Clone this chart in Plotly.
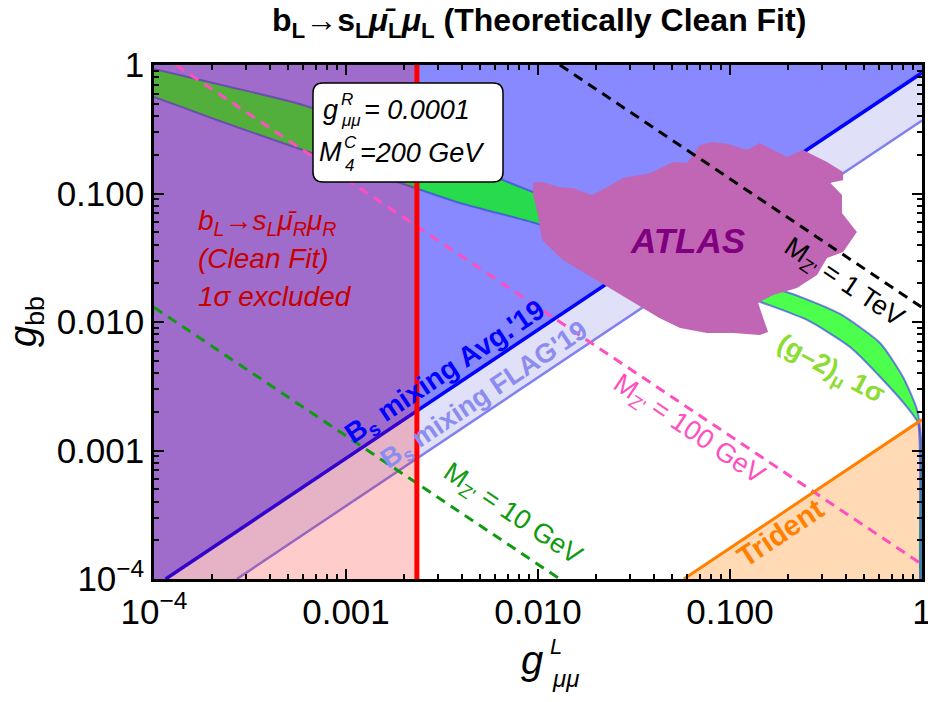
import plotly.graph_objects as go

# ---------------- data ----------------
# B_s mixing lines (g_bb vs g_mumu^L)
avg19_x = [1.15e-4, 1.0]
avg19_y = [1e-4, 0.87]
flag19_x = [2.7e-4, 1.0]
flag19_y = [1e-4, 0.37]

# M_Z' contours
mz10_x = [1e-4, 0.013]
mz10_y = [0.013, 1e-4]
mz100_x = [1.3e-4, 1.0]
mz100_y = [1.0, 1.3e-4]
mz1000_x = [0.013, 1.0]
mz1000_y = [1.0, 0.013]

# Trident bound
trident_x = [0.0575, 1.0]
trident_y = [1e-4, 0.00174]

# b_L -> s_L mu_R mu_R clean fit exclusion (vertical line)
clean_fit_x = 0.00234

# (g-2)_mu 1 sigma band
gm2_up_x = [1e-4, 2.49e-4, 5.97e-4, 1.50e-3, 3.93e-3, 9.64e-3, 0.0237, 0.0619, 0.143,
            0.232, 0.374, 0.604, 0.796, 0.942, 0.989, 1.0]
gm2_up_y = [0.931, 0.675, 0.489, 0.296, 0.173, 0.101, 0.060, 0.0338, 0.0201,
            0.0157, 0.01155, 0.00687, 0.00373, 0.00207, 0.00121, 1e-4]
gm2_lo_x = [1e-4, 2.13e-4, 5.97e-4, 1.50e-3, 3.93e-3, 9.64e-3, 0.0237, 0.0619, 0.149,
            0.252, 0.422, 0.627, 0.836, 0.953, 0.976, 0.976]
gm2_lo_y = [0.564, 0.373, 0.218, 0.137, 0.0844, 0.0589, 0.0377, 0.0224, 0.01406,
            0.01037, 0.00639, 0.00354, 0.00218, 0.00164, 0.000844, 1e-4]

# ATLAS excluded region outline
atlas_x = [0.00942, 0.0105, 0.0130, 0.0152, 0.0191, 0.0229, 0.0277, 0.0383, 0.0505, 0.0597,
           0.0698, 0.0805, 0.0977, 0.123, 0.143, 0.176, 0.198, 0.240, 0.320, 0.388,
           0.388, 0.332, 0.383, 0.383, 0.458, 0.388, 0.320, 0.284, 0.223, 0.168,
           0.140, 0.149, 0.158, 0.143, 0.104, 0.0759, 0.0550, 0.0431, 0.0301, 0.0203,
           0.0135, 0.0105, 0.0100, 0.00942]
atlas_y = [0.121, 0.123, 0.112, 0.110, 0.0973, 0.112, 0.132, 0.144, 0.176, 0.173,
           0.238, 0.252, 0.243, 0.218, 0.247, 0.210, 0.192, 0.218, 0.176, 0.147,
           0.127, 0.121, 0.0973, 0.0705, 0.0501, 0.0351, 0.0315, 0.0232, 0.0184, 0.0162,
           0.0141, 0.0107, 0.00836, 0.00792, 0.00821, 0.00821, 0.00898, 0.0107, 0.0148, 0.0212,
           0.0304, 0.0435, 0.0681, 0.0973]

tick_vals = [1e-4, 1e-3, 1e-2, 1e-1, 1]
x_tick_text = ["10<sup>\u22124</sup>", "0.001", "0.010", "0.100", "1"]
y_tick_text = ["10<sup>\u22124</sup>", "0.001", "0.010", "0.100", "1"]

# ---------------- layout geometry ----------------
W, H = 928, 702
L, R, T, B = 154, 6, 65, 123
PW, PH = W - L - R, H - T - B


def P(px, py):
    return (px - L) / PW, (H - B - py) / PH


FONT = "Liberation Sans, Arial, Helvetica, sans-serif"

fig = go.Figure()


def poly(xs, ys, color, shape="linear"):
    fig.add_trace(go.Scatter(x=xs, y=ys, mode="lines", fill="toself", fillcolor=color,
                             line=dict(width=0, color=color, shape=shape, smoothing=0.6),
                             hoverinfo="skip", showlegend=False))


def line(xs, ys, color, width, dash=None, shape="linear"):
    fig.add_trace(go.Scatter(x=xs, y=ys, mode="lines",
                             line=dict(color=color, width=width, dash=dash, shape=shape,
                                       smoothing=0.6),
                             hoverinfo="skip", showlegend=False))


# Blue region above Avg'19 line
poly([avg19_x[0], avg19_x[1], 1.0, 1e-4, 1e-4, avg19_x[0]],
     [avg19_y[0], avg19_y[1], 1.0, 1.0, 1e-4, avg19_y[0]], "#8888ff")
# light lavender between the two B_s lines
poly([avg19_x[0], avg19_x[1], flag19_x[1], flag19_x[0], avg19_x[0]],
     [avg19_y[0], avg19_y[1], flag19_y[1], flag19_y[0], avg19_y[0]], "#e0e0f8")
# Trident region
poly([trident_x[0], trident_x[1], 1.0, trident_x[0]],
     [trident_y[0], trident_y[1], 1e-4, trident_y[0]], "#ffdab4")

# B_s lines
line(flag19_x, flag19_y, "#8080f0", 2.5)
line(avg19_x, avg19_y, "#0000ff", 3.5)

# (g-2) band
poly(gm2_up_x + gm2_lo_x[::-1], gm2_up_y + gm2_lo_y[::-1], "rgba(0,255,0,0.70)",
     shape="spline")
line(gm2_up_x, gm2_up_y, "rgba(60,60,240,0.65)", 2, shape="spline")
line(gm2_lo_x, gm2_lo_y, "rgba(60,60,240,0.65)", 2, shape="spline")

# clean-fit exclusion overlay (red, translucent)
poly([1e-4, clean_fit_x, clean_fit_x, 1e-4, 1e-4], [1e-4, 1e-4, 1.0, 1.0, 1e-4],
     "rgba(255,0,0,0.20)")

# ATLAS
poly(atlas_x, atlas_y, "#c066b4")

# M_Z' lines
line(mz10_x, mz10_y, "#109a10", 3, "10px,7px")
line(mz100_x, mz100_y, "#ff4fbf", 3, "10px,7px")
line(mz1000_x, mz1000_y, "#000000", 3, "10px,7px")

# Trident line
line(trident_x, trident_y, "#ff8000", 3)

# Clean fit red line
line([clean_fit_x, clean_fit_x], [1e-4, 1.0], "#ff0000", 5)

# ---------------- text ----------------
ann = []


def A(text, px, py, size, color="black", angle=0, xanchor="center", yanchor="middle"):
    x, y = P(px, py)
    ann.append(dict(x=x, y=y, xref="paper", yref="paper", text=text, showarrow=False,
                    textangle=angle, xanchor=xanchor, yanchor=yanchor,
                    font=dict(size=size, color=color, family=FONT)))


# title
A("<b>b<sub>L</sub>\u2192s<sub>L</sub><i>\u03bc\u0304</i><sub>L</sub><i>\u03bc</i><sub>L</sub> (Theoretically Clean Fit)</b>",
  539, 22, 32)

# info box text
A("<i>g</i>", 330, 110, 27)
A("<i>R</i>", 347, 99, 17)
A("<i>\u03bc\u03bc</i>", 351, 121, 17)
A("<i>= 0.0001</i>", 362, 110, 27, xanchor="left")
A("<i>M</i>", 330, 152, 27)
A("<i>C</i>", 350, 142, 17)
A("<i>4</i>", 349, 165, 17)
A("<i>=200 GeV</i>", 358, 153, 27, xanchor="left")

# red exclusion text
A("<i>b<sub>L</sub>\u2192s<sub>L</sub>\u03bc\u0304<sub>R</sub>\u03bc<sub>R</sub></i>", 196, 222, 28,
  "#c80000", xanchor="left")
A("<i>(Clean Fit)</i>", 196, 258, 28, "#c80000", xanchor="left")
A("<i>1\u03c3 excluded</i>", 196, 296, 28, "#c80000", xanchor="left")

# region / line labels
A("<b>B<sub>s</sub> mixing Avg.'19</b>", 445, 373, 28, "#0000ff", angle=-33.8)
A("<b>B<sub>s</sub> mixing FLAG'19</b>", 485, 396, 27, "#8c8cf0", angle=-33.8)
A("M<sub>Z'</sub> = 10 GeV", 512, 515, 27, "#109a10", angle=33.8)
A("M<sub>Z'</sub> = 100 GeV", 688, 430, 27, "#ff4fbf", angle=33.8)
A("M<sub>Z'</sub> = 1 TeV", 843, 283, 27, "#000000", angle=33.8)
A("<b>(g\u20132)<sub>\u03bc</sub> 1\u03c3</b>", 830, 370, 27, "#8cdc32", angle=28)
A("<b>Trident</b>", 780, 533, 29, "#ff8000", angle=-33.8)
A("<b><i>ATLAS</i></b>", 687, 240, 35, "#800080")

# axis titles
A("<i>g</i>", 532, 660, 40)
A("<i>L</i>", 556, 646, 22)
A("<i>\u03bc\u03bc</i>", 565, 678, 24)
A("<i>g</i><sub>bb</sub>", 26, 322, 38, angle=-90)

x0, y0 = P(313, 182)
x1, y1 = P(503, 83)
rx, ry = 10 / PW, 10 / PH
box_path = (f"M {x0+rx},{y0} L {x1-rx},{y0} Q {x1},{y0} {x1},{y0+ry} L {x1},{y1-ry} "
            f"Q {x1},{y1} {x1-rx},{y1} L {x0+rx},{y1} Q {x0},{y1} {x0},{y1-ry} "
            f"L {x0},{y0+ry} Q {x0},{y0} {x0+rx},{y0} Z")

minor_vals = [m * 10.0 ** e for e in range(-4, 0) for m in range(2, 10)]

axis_common = dict(type="log", range=[-4, 0], showgrid=False, zeroline=False,
                   automargin=False, ticklabeloverflow="allow",
                   showline=True, linecolor="black", linewidth=2.5, mirror="allticks",
                   ticks="inside", ticklen=10, tickwidth=2, tickcolor="black",
                   tickvals=tick_vals, tickfont=dict(size=35, color="black", family=FONT),
                   minor=dict(tickvals=minor_vals, ticks="inside", ticklen=5, tickwidth=1.5,
                              tickcolor="black", showgrid=False))

fig.update_layout(
    width=W, height=H, margin=dict(l=L, r=R, t=T, b=B),
    paper_bgcolor="white", plot_bgcolor="white",
    xaxis=dict(axis_common, ticktext=x_tick_text),
    yaxis=dict(axis_common, ticktext=y_tick_text),
    annotations=ann,
    shapes=[dict(type="path", path=box_path, xref="paper", yref="paper",
                 fillcolor="white", line=dict(color="black", width=1.5), layer="above")],
    showlegend=False,
)

fig.write_html("out.html")
